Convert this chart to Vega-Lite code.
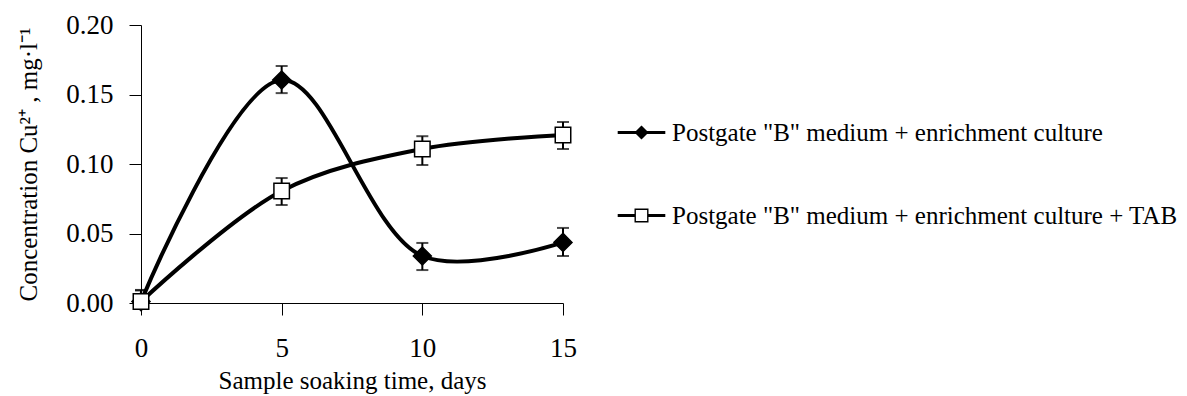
{
  "$schema": "https://vega.github.io/schema/vega-lite/v6.json",
  "width": 422,
  "height": 278,
  "autosize": {"type": "none"},
  "padding": {"left": 141, "top": 25, "right": 624, "bottom": 93},
  "background": "white",
  "config": {
    "font": "Liberation Serif",
    "view": {"stroke": null},
    "axis": {"grid": false, "domainColor": "black", "tickColor": "black", "labelColor": "black", "titleColor": "black", "labelFont": "Liberation Serif", "titleFont": "Liberation Serif", "titleFontWeight": "normal", "domainWidth": 1, "tickWidth": 1},
    "legend": {"labelFont": "Liberation Serif"}
  },
  "data": {
    "values": [
      {"series": "Postgate \"B\" medium + enrichment culture", "day": 0, "value": 0.001, "lo": 0, "hi": 0.009},
      {"series": "Postgate \"B\" medium + enrichment culture", "day": 5, "value": 0.1604, "lo": 0.151, "hi": 0.1705},
      {"series": "Postgate \"B\" medium + enrichment culture", "day": 10, "value": 0.0338, "lo": 0.0237, "hi": 0.0432},
      {"series": "Postgate \"B\" medium + enrichment culture", "day": 15, "value": 0.0436, "lo": 0.0338, "hi": 0.054},
      {"series": "Postgate \"B\" medium + enrichment culture + TAB", "day": 0, "value": 0.001, "lo": 0, "hi": 0.0094},
      {"series": "Postgate \"B\" medium + enrichment culture + TAB", "day": 5, "value": 0.0806, "lo": 0.0705, "hi": 0.0899},
      {"series": "Postgate \"B\" medium + enrichment culture + TAB", "day": 10, "value": 0.1108, "lo": 0.0993, "hi": 0.120},
      {"series": "Postgate \"B\" medium + enrichment culture + TAB", "day": 15, "value": 0.1209, "lo": 0.1108, "hi": 0.1302}
    ]
  },
  "encoding": {
    "x": {
      "field": "day", "type": "quantitative",
      "scale": {"domain": [0, 15], "nice": false, "zero": false},
      "axis": {"values": [0, 5, 10, 15], "title": "Sample soaking time, days", "labelFontSize": 27, "titleFontSize": 25, "tickSize": 12, "labelPadding": 20, "titlePadding": 7, "labelFlush": false}
    }
  },
  "layer": [
    {
      "mark": {"type": "line", "interpolate": "catmull-rom", "color": "black", "strokeWidth": 4},
      "encoding": {
        "y": {
          "field": "value", "type": "quantitative",
          "scale": {"domain": [0, 0.2], "nice": false, "zero": false, "clamp": false},
          "axis": {"values": [0, 0.05, 0.1, 0.15, 0.2], "format": ".2f", "title": "Concentration Cu²⁺ , mg·l⁻¹", "labelFontSize": 27, "titleFontSize": 25, "tickSize": 12, "labelPadding": 16, "titlePadding": 24}
        },
        "detail": {"field": "series"}
      }
    },
    {
      "mark": {"type": "rule", "color": "black", "strokeWidth": 2},
      "encoding": {
        "y": {"field": "lo", "type": "quantitative"},
        "y2": {"field": "hi"}
      }
    },
    {
      "mark": {"type": "tick", "orient": "horizontal", "color": "black", "size": 12, "thickness": 2},
      "encoding": {"y": {"field": "lo", "type": "quantitative"}}
    },
    {
      "mark": {"type": "tick", "orient": "horizontal", "color": "black", "size": 12, "thickness": 2},
      "encoding": {"y": {"field": "hi", "type": "quantitative"}}
    },
    {
      "mark": {"type": "point", "stroke": "black", "strokeWidth": 1.5, "opacity": 1},
      "encoding": {
        "y": {"field": "value", "type": "quantitative"},
        "shape": {"condition": {"test": {"field": "series", "equal": "Postgate \"B\" medium + enrichment culture"}, "value": "diamond"}, "value": "square"},
        "fill": {"condition": {"test": {"field": "series", "equal": "Postgate \"B\" medium + enrichment culture"}, "value": "black"}, "value": "white"},
        "size": {"condition": {"test": {"field": "series", "equal": "Postgate \"B\" medium + enrichment culture"}, "value": 324}, "value": 240}
      }
    },
    {
      "mark": {"type": "point", "filled": true, "color": "black", "opacity": 0},
      "encoding": {
        "y": {"field": "value", "type": "quantitative"},
        "shape": {
          "field": "series", "type": "nominal",
          "scale": {
            "domain": ["Postgate \"B\" medium + enrichment culture", "Postgate \"B\" medium + enrichment culture + TAB"],
            "range": [
              "M-3.4,-0.21H-0.79L0,-1L0.79,-0.21H3.4V0.21H0.79L0,1L-0.79,0.21H-3.4Z",
              "M-1,-1H1V1H-1Z M-0.8,-0.8V0.8H0.8V-0.8Z M-3.4,-0.21H-1V0.21H-3.4Z M1,-0.21H3.4V0.21H1Z"
            ]
          },
          "legend": {
            "title": null, "orient": "none", "legendX": 488, "legendY": 95, "direction": "vertical",
            "rowPadding": 57, "symbolSize": 196, "labelFont": "Liberation Serif", "labelFontSize": 25, "labelOffset": 18, "padding": 0,
            "symbolStrokeWidth": 0, "symbolFillColor": "black", "symbolOpacity": 1, "labelLimit": 0, "labelColor": "black"
          }
        }
      }
    }
  ]
}
